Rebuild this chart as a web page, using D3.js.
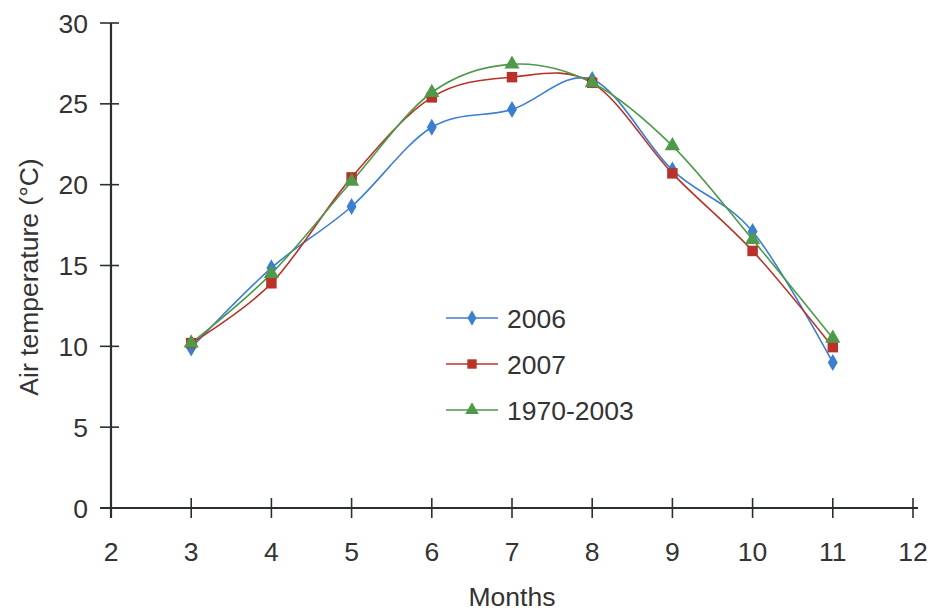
<!DOCTYPE html>
<html><head><meta charset="utf-8">
<script src="https://cdn.jsdelivr.net/npm/d3@7"></script>
<style>body{margin:0;background:#fff}text{font-family:"Liberation Sans",Arial,sans-serif;fill:#333}</style>
</head><body>
<svg id="c" width="932" height="612"></svg>
<script>
const months = [3,4,5,6,7,8,9,10,11];
const s2006 = [9.9,14.85,18.65,23.55,24.65,26.5,20.9,17.1,9.0];
const s2007 = [10.2,13.9,20.45,25.4,26.65,26.3,20.7,15.9,9.95];
const sClim = [10.2,14.5,20.2,25.7,27.45,26.3,22.4,16.6,10.5];
const seriesNames = ["2006","2007","1970-2003"];
const xTicks = [2,3,4,5,6,7,8,9,10,11,12];
const yTicks = [0,5,10,15,20,25,30];

const svg = d3.select("#c");
const x = d3.scaleLinear().domain([2,12]).range([111,913]);
const y = d3.scaleLinear().domain([0,30]).range([508,23]);
const axisCol = "#2a2f33";
const fs = 26.5;

// y axis
const ya = svg.append("g").attr("transform","translate(111,0)");
ya.append("line").attr("y1",y(30)).attr("y2",y(0)+10).attr("stroke",axisCol).attr("stroke-width",2.2);
yTicks.forEach(t=>{
  ya.append("line").attr("x1",-11).attr("x2",8).attr("y1",y(t)).attr("y2",y(t)).attr("stroke",axisCol).attr("stroke-width",1.6);
  ya.append("text").attr("x",-23).attr("y",y(t)).attr("dy","0.36em").attr("text-anchor","end").attr("font-size",fs).text(t);
});
// x axis
const xa = svg.append("g").attr("transform","translate(0,"+y(0)+")");
xa.append("line").attr("x1",100).attr("x2",918).attr("stroke",axisCol).attr("stroke-width",2.2);
xTicks.forEach(t=>{
  xa.append("line").attr("x1",x(t)).attr("x2",x(t)).attr("y1",-10).attr("y2",10).attr("stroke",axisCol).attr("stroke-width",1.6);
  xa.append("text").attr("x",x(t)).attr("y",53).attr("text-anchor","middle").attr("font-size",fs).text(t);
});
svg.append("text").attr("x",512).attr("y",606).attr("text-anchor","middle").attr("font-size",fs).text("Months");
svg.append("text").attr("transform","translate(38,277) rotate(-90)").attr("text-anchor","middle").attr("font-size",fs).text("Air temperature (°C)");

const colors = ["#3b7fd1","#b8322a","#4f9a4a"];
const symbols = [d3.symbolDiamond, d3.symbolSquare, d3.symbolTriangle];
const sizes = [85,110,100];
const data = [s2006,s2007,sClim];
const line = d3.line().x((d,i)=>x(months[i])).y(d=>y(d)).curve(d3.curveCatmullRom.alpha(0));
data.forEach((s,k)=>{
  svg.append("path").attr("d",line(s)).attr("fill","none").attr("stroke",colors[k]).attr("stroke-width",1.6);
});
data.forEach((s,k)=>{
  svg.selectAll(null).data(s).enter().append("path")
    .attr("d",d3.symbol().type(symbols[k]).size(sizes[k]))
    .attr("transform",(d,i)=>"translate("+x(months[i])+","+y(d)+")")
    .attr("fill",colors[k]);
});
// legend
const legY = [318,364,410];
seriesNames.forEach((n,k)=>{
  const g = svg.append("g").attr("transform","translate(446,"+legY[k]+")");
  g.append("line").attr("x1",0).attr("x2",52).attr("stroke",colors[k]).attr("stroke-width",1.6);
  g.append("path").attr("d",d3.symbol().type(symbols[k]).size(sizes[k]*0.8)).attr("transform","translate(26,0)").attr("fill",colors[k]);
  g.append("text").attr("x",61).attr("dy","0.36em").attr("font-size",fs).text(n);
});
</script>
</body></html>
